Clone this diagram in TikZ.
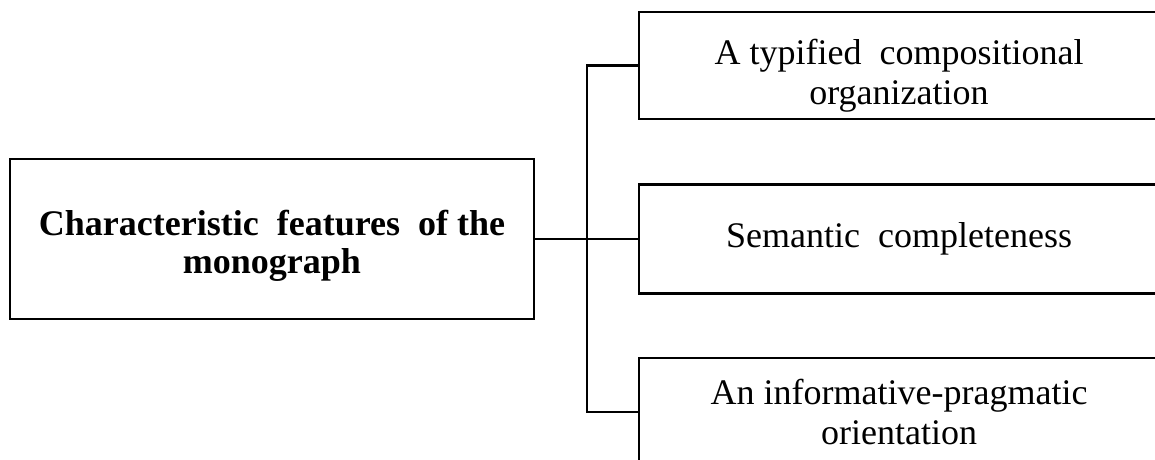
\documentclass[tikz,border=0pt]{standalone}
\usepackage{fontspec}
\setmainfont{Liberation Serif}
\begin{document}
\begin{tikzpicture}[x=1pt,y=-1pt,
  box/.style={draw=black, line width=2.3pt, align=center, inner sep=0pt,
    font=\fontsize{36}{40}\selectfont},
  link/.style={draw=black, line width=2.3pt}]
\useasboundingbox (0,0) rectangle (1155,459);
\clip (0,0) rectangle (1155,459);
\node[box, minimum width=524pt, minimum height=160pt,
  font=\fontsize{36}{38}\selectfont\bfseries] (main) at (272,239)
  {\rule{0pt}{39pt}Characteristic\ \ features\ \ of the\\monograph};
\node[box, minimum width=520pt, minimum height=107pt] (top) at (899,65.5)
  {\rule{0pt}{46pt}A typified\ \ compositional\\organization};
\node[box, minimum width=520pt, minimum height=109pt] (mid) at (899,239)
  {Semantic\ \ completeness};
\node[box, minimum width=520pt, minimum height=108pt] (bot) at (899,412)
  {An informative-pragmatic\\orientation};
\coordinate (j) at (587,239);
\draw[link] (main.east) -- (j) -- (mid.west);
\draw[link] (top.west) -| (j) |- (bot.west);
\end{tikzpicture}
\end{document}
